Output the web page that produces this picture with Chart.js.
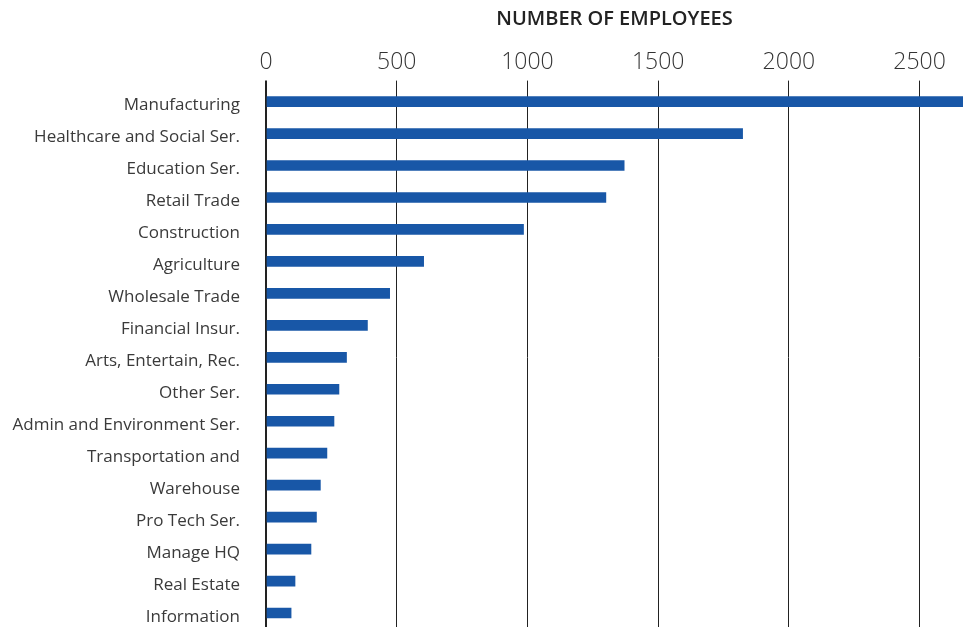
<!DOCTYPE html>
<html>
<head>
<meta charset="utf-8">
<script src="https://cdn.jsdelivr.net/npm/chart.js@4"></script>
<style>
  html, body { margin: 0; padding: 0; background: #fff; overflow: hidden; }
  canvas { display: block; }
</style>
</head>
<body>
<canvas id="chart" width="972" height="629"></canvas>
<script>
// Data
const industries = [
    'Manufacturing', 'Healthcare and Social Ser.', 'Education Ser.', 'Retail Trade',
    'Construction', 'Agriculture', 'Wholesale Trade', 'Financial Insur.',
    'Arts, Entertain, Rec.', 'Other Ser.', 'Admin and Environment Ser.',
    'Transportation and', 'Warehouse', 'Pro Tech Ser.', 'Manage HQ',
    'Real Estate', 'Information'
];
const employees = [2666, 1823, 1370, 1300, 985, 603, 473, 388, 308, 279, 260, 233, 208, 193, 172, 111, 96];
const tickValues = [0, 500, 1000, 1500, 2000, 2500];
const axisMax = 2666;

const ctx = document.getElementById('chart').getContext('2d');

new Chart(ctx, {
    type: 'bar',
    data: {
        labels: industries,
        datasets: [{
            data: employees,
            backgroundColor: '#1857a7',
            barThickness: 10
        }]
    },
    options: {
        indexAxis: 'y',
        responsive: false,
        animation: false,
        layout: {
            padding: { left: 0, right: 9, top: 0, bottom: 0 }
        },
        plugins: {
            legend: { display: false },
            tooltip: { enabled: false }
        },
        scales: {
            x: {
                position: 'top',
                min: 0,
                max: axisMax,
                border: { display: false },
                afterBuildTicks: (scale) => {
                    scale.ticks = tickValues.map(v => ({ value: v }));
                },
                grid: {
                    color: '#222',
                    lineWidth: (c) => c.tick && c.tick.value === 0 ? 2 : 1,
                    tickLength: 5
                },
                ticks: {
                    color: '#333',
                    padding: 4,
                    callback: (value) => String(value),
                    font: { family: 'Open Sans', size: 23, weight: 300 }
                },
                title: {
                    display: true,
                    text: 'NUMBER OF EMPLOYEES',
                    color: '#222',
                    padding: { top: 7, bottom: 14 },
                    font: { family: 'Open Sans', size: 20, weight: 600 }
                }
            },
            y: {
                border: { display: false },
                grid: { display: false },
                afterFit: (scale) => {
                    // keep the label gap from padding the top/bottom of the plot
                    scale.width = 266;
                    scale.paddingTop = 0;
                    scale.paddingBottom = 0;
                },
                ticks: {
                    color: '#3a3a3a',
                    padding: 18,
                    labelOffset: 4,
                    autoSkip: false,
                    font: { family: 'Open Sans', size: 17 }
                }
            }
        }
    }
});
</script>
</body>
</html>
